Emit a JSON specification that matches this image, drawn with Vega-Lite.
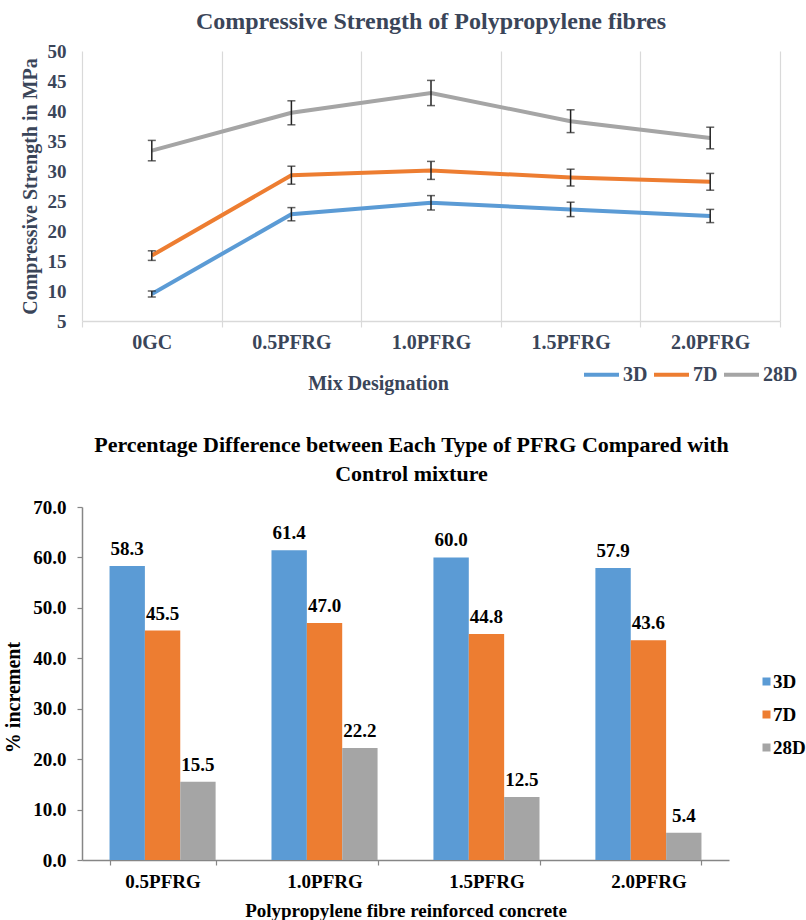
{
  "$schema": "https://vega.github.io/schema/vega-lite/v6.json",
  "padding": {"left": 3, "top": 10, "right": 0, "bottom": 0},
  "bounds": "flush",
  "spacing": 186,
  "config": {"font": "Liberation Serif", "view": {"stroke": null}, "axis": {"labelOverlap": false}, "axisY": {"labelOverlap": false}},
  "resolve": {"scale": {"color": "independent", "x": "independent", "y": "independent"}, "legend": {"color": "independent"}},
  "vconcat": [
    {
      "width": 698,
      "height": 270,
      "title": {"text": "Compressive Strength of Polypropylene fibres", "font": "Liberation Serif", "fontSize": 24, "fontWeight": "bold", "color": "#3a4559", "anchor": "middle", "offset": 8},
      "data": {"values": [
        {"mix": "0GC", "age": "3D", "strength": 9.5, "lo": 9.0, "hi": 10.0},
        {"mix": "0GC", "age": "7D", "strength": 15.9, "lo": 15.1, "hi": 16.7},
        {"mix": "0GC", "age": "28D", "strength": 33.4, "lo": 31.7, "hi": 35.1},
        {"mix": "0.5PFRG", "age": "3D", "strength": 22.8, "lo": 21.7, "hi": 23.9},
        {"mix": "0.5PFRG", "age": "7D", "strength": 29.3, "lo": 27.8, "hi": 30.8},
        {"mix": "0.5PFRG", "age": "28D", "strength": 39.7, "lo": 37.7, "hi": 41.7},
        {"mix": "1.0PFRG", "age": "3D", "strength": 24.7, "lo": 23.5, "hi": 25.9},
        {"mix": "1.0PFRG", "age": "7D", "strength": 30.1, "lo": 28.6, "hi": 31.6},
        {"mix": "1.0PFRG", "age": "28D", "strength": 43.0, "lo": 40.9, "hi": 45.1},
        {"mix": "1.5PFRG", "age": "3D", "strength": 23.6, "lo": 22.4, "hi": 24.8},
        {"mix": "1.5PFRG", "age": "7D", "strength": 28.9, "lo": 27.5, "hi": 30.3},
        {"mix": "1.5PFRG", "age": "28D", "strength": 38.3, "lo": 36.4, "hi": 40.2},
        {"mix": "2.0PFRG", "age": "3D", "strength": 22.5, "lo": 21.4, "hi": 23.6},
        {"mix": "2.0PFRG", "age": "7D", "strength": 28.2, "lo": 26.8, "hi": 29.6},
        {"mix": "2.0PFRG", "age": "28D", "strength": 35.5, "lo": 33.7, "hi": 37.3}
      ]},
      "encoding": {
        "x": {
          "field": "mix", "type": "nominal",
          "sort": ["0GC", "0.5PFRG", "1.0PFRG", "1.5PFRG", "2.0PFRG"],
          "scale": {"type": "band", "paddingInner": 0, "paddingOuter": 0},
          "axis": {
            "title": "Mix Designation", "titleX": 296, "titlePadding": 21,
            "titleFont": "Liberation Serif", "titleFontSize": 20, "titleFontWeight": "bold", "titleColor": "#3a4559",
            "labelFont": "Liberation Serif", "labelFontSize": 20, "labelFontWeight": "bold", "labelColor": "#3a4559",
            "labelAngle": 0, "labelPadding": 5,
            "tickBand": "extent", "grid": true, "gridColor": "#d9d9d9", "gridWidth": 1.2,
            "domainColor": "#d9d9d9", "domainWidth": 1.5, "tickColor": "#d9d9d9", "tickSize": 6, "tickWidth": 1.2
          }
        },
        "y": {
          "field": "strength", "type": "quantitative",
          "scale": {"domain": [5, 50], "nice": false, "zero": false},
          "axis": {
            "title": "Compressive Strength in MPa", "values": [5, 10, 15, 20, 25, 30, 35, 40, 45, 50],
            "labelOverlap": false, "labelBound": false,
            "domain": false, "ticks": false, "grid": false, "labelPadding": 16,
            "labelFont": "Liberation Serif", "labelFontSize": 19, "labelFontWeight": "bold", "labelColor": "#3a4559",
            "titleFont": "Liberation Serif", "titleFontSize": 20, "titleFontWeight": "bold", "titleColor": "#3a4559",
            "titlePadding": 7
          }
        }
      },
      "layer": [
        {
          "mark": {"type": "line", "strokeWidth": 4},
          "encoding": {
            "color": {
              "field": "age", "type": "nominal",
              "scale": {"domain": ["3D", "7D", "28D"], "range": ["#5b9bd5", "#ed7d31", "#a5a5a5"]},
              "legend": {
                "title": null, "orient": "none", "legendX": 500, "legendY": 304, "direction": "horizontal", "columns": 3,
                "symbolType": "stroke", "symbolSize": 1225, "symbolStrokeWidth": 4,
                "labelFont": "Liberation Serif", "labelFontSize": 20, "labelFontWeight": "bold", "labelColor": "#3a4559",
                "labelOffset": 2, "columnPadding": -2
              }
            }
          }
        },
        {
          "mark": {"type": "rule", "color": "#222222", "strokeWidth": 1.5},
          "encoding": {
            "y": {"field": "lo", "type": "quantitative"},
            "y2": {"field": "hi"}
          }
        },
        {
          "mark": {"type": "tick", "color": "#222222", "size": 8, "thickness": 1.5, "orient": "horizontal"},
          "encoding": {"y": {"field": "lo", "type": "quantitative"}}
        },
        {
          "mark": {"type": "tick", "color": "#222222", "size": 8, "thickness": 1.5, "orient": "horizontal"},
          "encoding": {"y": {"field": "hi", "type": "quantitative"}}
        }
      ]
    },
    {
      "width": 647,
      "height": 353,
      "title": {"text": ["Percentage Difference between Each Type of PFRG Compared with", "Control mixture"], "font": "Liberation Serif", "fontSize": 22, "fontWeight": "bold", "color": "#000000", "anchor": "middle", "lineHeight": 29, "offset": 12, "dx": 6},
      "data": {"values": [
        {"mix": "0.5PFRG", "age": "3D", "pct": 58.3},
        {"mix": "0.5PFRG", "age": "7D", "pct": 45.5},
        {"mix": "0.5PFRG", "age": "28D", "pct": 15.5},
        {"mix": "1.0PFRG", "age": "3D", "pct": 61.4},
        {"mix": "1.0PFRG", "age": "7D", "pct": 47.0},
        {"mix": "1.0PFRG", "age": "28D", "pct": 22.2},
        {"mix": "1.5PFRG", "age": "3D", "pct": 60.0},
        {"mix": "1.5PFRG", "age": "7D", "pct": 44.8},
        {"mix": "1.5PFRG", "age": "28D", "pct": 12.5},
        {"mix": "2.0PFRG", "age": "3D", "pct": 57.9},
        {"mix": "2.0PFRG", "age": "7D", "pct": 43.6},
        {"mix": "2.0PFRG", "age": "28D", "pct": 5.4}
      ]},
      "encoding": {
        "x": {
          "field": "mix", "type": "nominal",
          "sort": ["0.5PFRG", "1.0PFRG", "1.5PFRG", "2.0PFRG"],
          "scale": {"paddingInner": 0.345, "paddingOuter": 0.17},
          "axis": {
            "title": "Polypropylene fibre reinforced concrete", "titlePadding": 10,
            "titleFont": "Liberation Serif", "titleFontSize": 19, "titleFontWeight": "bold", "titleColor": "#000000",
            "labelFont": "Liberation Serif", "labelFontSize": 19, "labelFontWeight": "bold", "labelColor": "#000000",
            "labelAngle": 0, "labelPadding": 7,
            "tickBand": "extent", "grid": false,
            "domainColor": "#868686", "domainWidth": 1.5, "tickColor": "#868686", "tickSize": 5, "tickWidth": 1.2
          }
        },
        "xOffset": {
          "field": "age", "type": "nominal", "sort": ["3D", "7D", "28D"],
          "scale": {"paddingInner": 0, "paddingOuter": 0}
        },
        "y": {
          "field": "pct", "type": "quantitative",
          "scale": {"domain": [0, 70], "nice": false},
          "axis": {
            "title": "% increment", "values": [0, 10, 20, 30, 40, 50, 60, 70], "format": ".1f",
            "labelOverlap": false,
            "grid": false, "domainColor": "#868686", "domainWidth": 1.5, "tickColor": "#868686", "tickSize": 5, "tickWidth": 1.2,
            "labelPadding": 11,
            "labelFont": "Liberation Serif", "labelFontSize": 19, "labelFontWeight": "bold", "labelColor": "#000000",
            "titleFont": "Liberation Serif", "titleFontSize": 20, "titleFontWeight": "bold", "titleColor": "#000000",
            "titlePadding": 9, "titleY": 190
          }
        }
      },
      "layer": [
        {
          "mark": {"type": "bar"},
          "encoding": {
            "color": {
              "field": "age", "type": "nominal",
              "scale": {"domain": ["3D", "7D", "28D"], "range": ["#5b9bd5", "#ed7d31", "#a5a5a5"]},
              "legend": {
                "title": null, "orient": "none", "legendX": 675, "legendY": 165, "direction": "vertical",
                "symbolType": "square", "symbolSize": 64, "symbolStrokeWidth": 0,
                "labelFont": "Liberation Serif", "labelFontSize": 19, "labelFontWeight": "bold", "labelColor": "#000000",
                "labelOffset": -3, "rowPadding": 13
              }
            }
          }
        },
        {
          "mark": {"type": "text", "baseline": "alphabetic", "dy": -11, "font": "Liberation Serif", "fontSize": 19, "fontWeight": "bold", "color": "#000000"},
          "encoding": {
            "text": {"field": "pct", "type": "quantitative", "format": ".1f"}
          }
        }
      ]
    }
  ]
}
